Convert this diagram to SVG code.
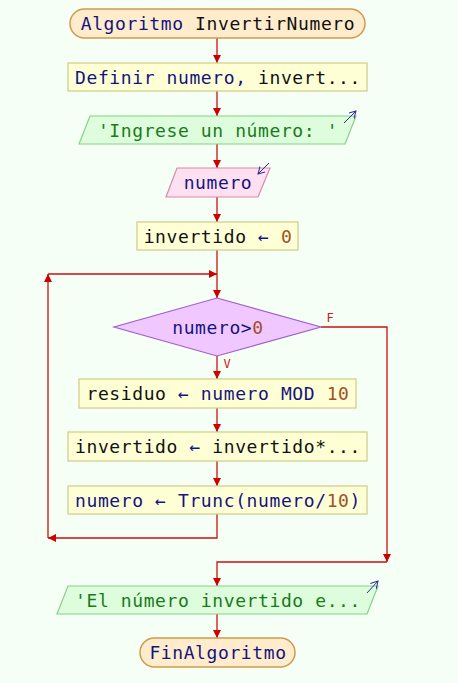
<svg xmlns="http://www.w3.org/2000/svg" width="458" height="683" viewBox="0 0 458 683">
<style>
text{font-family:"DejaVu Sans Mono","Liberation Mono",monospace;font-size:18px;letter-spacing:0.6px;text-anchor:middle}
.term{fill:#ffeccc;stroke:#cf9a4a;stroke-width:1.5}
.proc{fill:#ffffd6;stroke:#cccc88;stroke-width:1.2}
.out{fill:#ddfddd;stroke:#88d088;stroke-width:1.2}
.in{fill:#ffe0f0;stroke:#d888aa;stroke-width:1.2}
.dec{fill:#f0c8ff;stroke:#a060d0;stroke-width:1.2}
.k{fill:#141480}.b{fill:#111}.n{fill:#a05028}.s{fill:#1a7a1a}
.c{fill:none;stroke:#cc1010;stroke-width:1.3;marker-end:url(#ah)}
.ic{fill:none;stroke:#2a2aa0;stroke-width:1;marker-end:url(#ih)}
.lbl{font-size:12px;letter-spacing:0;fill:#cc2020}
</style>
<defs>
<marker id="ah" markerWidth="10" markerHeight="8" refX="8" refY="4" orient="auto" markerUnits="userSpaceOnUse"><path d="M0,0 L8,4 L0,8 z" fill="#cc0000"/></marker>
<marker id="ih" markerWidth="10" markerHeight="10" refX="7" refY="4" orient="auto" markerUnits="userSpaceOnUse"><path d="M0,0 L7,4 L0,8" fill="none" stroke="#2a2aa0" stroke-width="1"/></marker>
</defs>
<rect width="458" height="683" fill="#f5fff5"/>
<g id="connectors">
<path class="c" d="M217,38 V63"/>
<path class="c" d="M217,91 V116"/>
<path class="c" d="M217,144 V168"/>
<path class="c" d="M217,197 V222"/>
<path class="c" d="M217,250 V298"/>
<path class="c" d="M217,514 V538 H48"/>
<path class="c" d="M48,538 V274"/>
<path class="c" d="M48,274 H217"/>
<path class="c" d="M217,356 V379"/>
<path class="c" d="M217,408 V432"/>
<path class="c" d="M217,461 V486"/>
<path class="c" d="M321,327 H387 V562"/>
<path class="c" d="M387,562 H217 V586"/>
<path class="c" d="M217,614 V638"/>
<text class="lbl" x="330" y="322">F</text>
<text class="lbl" x="227" y="368">V</text>
</g>
<g id="start">
<rect class="term" x="70" y="9" width="295" height="29" rx="14.5"/>
<text x="218" y="30"><tspan class="k">Algoritmo</tspan><tspan class="b"> InvertirNumero</tspan></text>
</g>
<g id="definir">
<rect class="proc" x="68" y="63" width="299" height="28"/>
<text x="218" y="83.5"><tspan class="k">Definir numero,</tspan><tspan class="b"> invert...</tspan></text>
</g>
<g id="escribir1">
<polygon class="out" points="90,116 356,116 345,144 79,144"/>
<text class="s" x="218" y="136.5">'Ingrese un número: '</text>
<path class="ic" d="M344,123 L356,111"/>
</g>
<g id="leer">
<polygon class="in" points="177,168 270,168 258,197 166,197"/>
<text class="k" x="218" y="189">numero</text>
<path class="ic" d="M269,163 L258,174"/>
</g>
<g id="init">
<rect class="proc" x="137" y="222" width="161" height="28"/>
<text x="218" y="242.5"><tspan class="b">invertido</tspan><tspan class="k"> ← </tspan><tspan class="n">0</tspan></text>
</g>
<g id="cond">
<polygon class="dec" points="217,298 321,327 217,356 114,327"/>
<text x="218" y="333.5"><tspan class="k">numero&gt;</tspan><tspan class="n">0</tspan></text>
</g>
<g id="residuo">
<rect class="proc" x="79" y="379" width="277" height="29"/>
<text x="218" y="400"><tspan class="b">residuo</tspan><tspan class="k"> ← numero MOD </tspan><tspan class="n">10</tspan></text>
</g>
<g id="invertido">
<rect class="proc" x="68" y="432" width="299" height="29"/>
<text x="218" y="453"><tspan class="b">invertido</tspan><tspan class="k"> ← </tspan><tspan class="b">invertido*...</tspan></text>
</g>
<g id="trunc">
<rect class="proc" x="68" y="486" width="299" height="28"/>
<text x="218" y="506.5"><tspan class="k">numero ← Trunc(numero/</tspan><tspan class="n">10</tspan><tspan class="k">)</tspan></text>
</g>
<g id="escribir2">
<polygon class="out" points="68,586 378,586 367,614 57,614"/>
<text class="s" x="218" y="606.5">'El número invertido e...</text>
<path class="ic" d="M367,593 L378,581"/>
</g>
<g id="end">
<rect class="term" x="140" y="638" width="155" height="29" rx="14.5"/>
<text class="k" x="218" y="658.5">FinAlgoritmo</text>
</g>
</svg>
